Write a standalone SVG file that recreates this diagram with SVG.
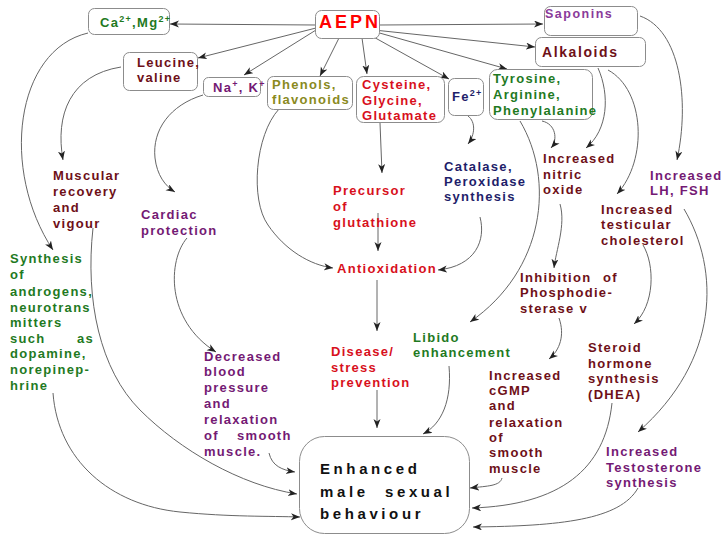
<svg xmlns="http://www.w3.org/2000/svg" width="722" height="536" viewBox="0 0 722 536">
<style>
.t{font-family:"Liberation Sans",Arial,sans-serif;font-weight:bold;font-size:13px;letter-spacing:1.3px}
.box{fill:#fff;stroke:#8c8c8c;stroke-width:1}
.c{fill:none;stroke:#666;stroke-width:1;marker-end:url(#a)}
.g{fill:#1f7a1f}.m{fill:#6e1018}.r{fill:#d8101c}.p{fill:#741a74}.n{fill:#1e1e6a}.o{fill:#8a8a1e}.k{fill:#111}
.sup{font-size:9px}
</style>
<defs>
<marker id="a" markerWidth="10" markerHeight="8" refX="9" refY="3.5" orient="auto" markerUnits="userSpaceOnUse">
<path d="M0,0 L9,3.5 L0,7 L2.5,3.5 z" fill="#222"/>
</marker>
</defs>
<rect width="722" height="536" fill="#fff"/>
<g id="connectors">
<path class="c" d="M316,25 L170,24"/>
<path class="c" d="M379,25 L543,24"/>
<path class="c" d="M374,30 L535,47"/>
<path class="c" d="M376,32 L507,69"/>
<path class="c" d="M370,35 L449,79"/>
<path class="c" d="M362,38 L367,74"/>
<path class="c" d="M339,38 L320,76"/>
<path class="c" d="M316,30 L244,75"/>
<path class="c" d="M316,28 L198,58"/>
<path class="c" d="M88,33 C15,50 0,170 53,250"/>
<path class="c" d="M121,67 C70,75 55,115 63,160"/>
<path class="c" d="M203,95 C170,105 152,130 155,158 C157,175 165,186 175,192"/>
<path class="c" d="M279,109 C255,135 250,200 268,225 C285,250 310,265 333,268"/>
<path class="c" d="M380,123 L382,173"/>
<path class="c" d="M378,213 L378,251"/>
<path class="c" d="M468,116 C476,122 475,135 468,144"/>
<path class="c" d="M480,217 C486,240 476,266 438,270"/>
<path class="c" d="M377,280 L377,331"/>
<path class="c" d="M377,390 L377,428"/>
<path class="c" d="M449,366 C452,400 442,424 423,434"/>
<path class="c" d="M520,121 C555,180 545,270 470,322"/>
<path class="c" d="M542,121 C556,124 558,140 551,148"/>
<path class="c" d="M598,68 C610,95 608,130 586,148"/>
<path class="c" d="M608,70 C645,90 648,160 617,194"/>
<path class="c" d="M640,16 C680,30 690,100 677,160"/>
<path class="c" d="M560,204 C566,225 556,250 554,268"/>
<path class="c" d="M559,318 C565,335 560,350 549,359"/>
<path class="c" d="M643,245 C655,265 655,305 634,324"/>
<path class="c" d="M684,209 C720,270 720,360 638,432"/>
<path class="c" d="M612,403 C605,470 560,505 472,508"/>
<path class="c" d="M502,478 C500,486 488,486 470,488"/>
<path class="c" d="M638,488 C620,520 560,526 473,527"/>
<path class="c" d="M269,453 C272,466 282,470 295,472"/>
<path class="c" d="M93,228 C85,300 100,370 140,410 C180,450 240,485 297,494"/>
<path class="c" d="M53,393 C58,460 110,505 180,512 C230,517 270,516 300,517"/>
<path class="c" d="M187,238 C168,260 165,320 216,352"/>
</g>
<g id="aepn">
<rect class="box" x="315.5" y="10.5" width="64" height="28" rx="6"/>
<text class="t" x="319" y="28" style="font-size:18px;letter-spacing:3px" fill="#f00">AEPN</text>
</g>
<g id="ca-mg">
<rect class="box" x="88.5" y="8.5" width="81" height="26" rx="6"/>
<text class="t g" x="100" y="27">Ca<tspan class="sup" dy="-5">2+</tspan><tspan dy="5">,Mg</tspan><tspan class="sup" dy="-5">2+</tspan></text>
</g>
<g id="saponins">
<rect class="box" x="544.5" y="6.5" width="93" height="29" rx="6"/>
<text class="t" x="545" y="18" style="font-size:12.5px;letter-spacing:1.5px;fill:#8a3a9a">Saponins</text>
</g>
<g id="alkaloids">
<rect class="box" x="535.5" y="37.5" width="110" height="29" rx="6"/>
<text class="t m" x="542" y="57" style="font-size:14px;letter-spacing:1.6px">Alkaloids</text>
</g>
<g id="leucine">
<rect class="box" x="123.5" y="52.5" width="74" height="38" rx="6"/>
<text class="t m" x="137" y="67">Leucine,</text>
<text class="t m" x="137" y="82">valine</text>
</g>
<g id="na-k">
<rect class="box" x="203.5" y="77.5" width="57" height="19" rx="5"/>
<text class="t p" x="213" y="92">Na<tspan class="sup" dy="-5">+</tspan><tspan dy="5">, K</tspan><tspan class="sup" dy="-5">+</tspan></text>
</g>
<g id="phenols">
<rect class="box" x="267.5" y="76.5" width="85" height="33" rx="6"/>
<text class="t o" x="272" y="89">Phenols,</text>
<text class="t o" x="272" y="104">flavonoids</text>
</g>
<g id="cysteine">
<rect class="box" x="356.5" y="76.5" width="88" height="46" rx="7"/>
<text class="t r" x="362" y="89">Cysteine,</text>
<text class="t r" x="362" y="105">Glycine,</text>
<text class="t r" x="362" y="120">Glutamate</text>
</g>
<g id="fe">
<rect class="box" x="448.5" y="78.5" width="35" height="37" rx="6"/>
<text class="t n" x="452" y="101">Fe<tspan class="sup" dy="-5">2+</tspan></text>
</g>
<g id="tyrosine">
<rect class="box" x="489.5" y="69.5" width="103" height="50" rx="8"/>
<text class="t g" x="493" y="83">Tyrosine,</text>
<text class="t g" x="493" y="99">Arginine,</text>
<text class="t g" x="493" y="115">Phenylalanine</text>
</g>
<g id="muscular">
<text class="t m" x="53" y="180">Muscular</text>
<text class="t m" x="53" y="196">recovery</text>
<text class="t m" x="53" y="212">and</text>
<text class="t m" x="53" y="228">vigour</text>
</g>
<g id="cardiac">
<text class="t p" x="141" y="219">Cardiac</text>
<text class="t p" x="141" y="235">protection</text>
</g>
<g id="synthesis">
<text class="t g" x="10" y="263">Synthesis</text>
<text class="t g" x="10" y="279">of</text>
<text class="t g" x="10" y="296">androgens,</text>
<text class="t g" x="10" y="312">neurotrans</text>
<text class="t g" x="10" y="327">mitters</text>
<text class="t g" x="10" y="343">such</text>
<text class="t g" x="77" y="343">as</text>
<text class="t g" x="10" y="358">dopamine,</text>
<text class="t g" x="10" y="374">norepinep-</text>
<text class="t g" x="10" y="390">hrine</text>
</g>
<g id="precursor">
<text class="t r" x="333" y="195">Precursor</text>
<text class="t r" x="333" y="211">of</text>
<text class="t r" x="333" y="227">glutathione</text>
</g>
<g id="antioxidation">
<text class="t r" x="337" y="273">Antioxidation</text>
</g>
<g id="catalase">
<text class="t n" x="444" y="171">Catalase,</text>
<text class="t n" x="444" y="186">Peroxidase</text>
<text class="t n" x="444" y="201">synthesis</text>
</g>
<g id="nitric-oxide">
<text class="t m" x="543" y="163">Increased</text>
<text class="t m" x="543" y="179">nitric</text>
<text class="t m" x="543" y="194">oxide</text>
</g>
<g id="lh-fsh">
<text class="t p" x="650" y="180">Increased</text>
<text class="t p" x="650" y="195">LH, FSH</text>
</g>
<g id="cholesterol">
<text class="t m" x="601" y="214">Increased</text>
<text class="t m" x="601" y="229">testicular</text>
<text class="t m" x="601" y="245">cholesterol</text>
</g>
<g id="inhibition">
<text class="t m" x="520" y="282">Inhibition</text>
<text class="t m" x="603" y="282">of</text>
<text class="t m" x="520" y="297">Phosphodie-</text>
<text class="t m" x="520" y="313">sterase v</text>
</g>
<g id="libido">
<text class="t g" x="413" y="342">Libido</text>
<text class="t g" x="413" y="357">enhancement</text>
</g>
<g id="disease">
<text class="t r" x="331" y="356">Disease/</text>
<text class="t r" x="331" y="372">stress</text>
<text class="t r" x="331" y="387">prevention</text>
</g>
<g id="decreased-bp">
<text class="t p" x="204" y="361">Decreased</text>
<text class="t p" x="204" y="376">blood</text>
<text class="t p" x="204" y="392">pressure</text>
<text class="t p" x="204" y="408">and</text>
<text class="t p" x="204" y="424">relaxation</text>
<text class="t p" x="204" y="440">of</text>
<text class="t p" x="237" y="440">smooth</text>
<text class="t p" x="204" y="456">muscle.</text>
</g>
<g id="steroid">
<text class="t m" x="588" y="352">Steroid</text>
<text class="t m" x="588" y="368">hormone</text>
<text class="t m" x="588" y="383">synthesis</text>
<text class="t m" x="588" y="399">(DHEA)</text>
</g>
<g id="cgmp">
<text class="t m" x="489" y="380">Increased</text>
<text class="t m" x="489" y="395">cGMP</text>
<text class="t m" x="489" y="410">and</text>
<text class="t m" x="489" y="427">relaxation</text>
<text class="t m" x="489" y="442">of</text>
<text class="t m" x="489" y="457">smooth</text>
<text class="t m" x="489" y="473">muscle</text>
</g>
<g id="testosterone">
<text class="t p" x="606" y="456">Increased</text>
<text class="t p" x="606" y="472">Testosterone</text>
<text class="t p" x="606" y="487">synthesis</text>
</g>
<g id="enhanced">
<rect class="box" x="299.5" y="436.5" width="170" height="97" rx="25"/>
<text class="t k" x="320" y="474" style="font-size:15px;letter-spacing:3.6px">Enhanced</text>
<text class="t k" x="320" y="497" style="font-size:15px;letter-spacing:3.6px">male</text>
<text class="t k" x="385" y="497" style="font-size:15px;letter-spacing:3.6px">sexual</text>
<text class="t k" x="320" y="519" style="font-size:15px;letter-spacing:3.6px">behaviour</text>
</g>
</svg>
